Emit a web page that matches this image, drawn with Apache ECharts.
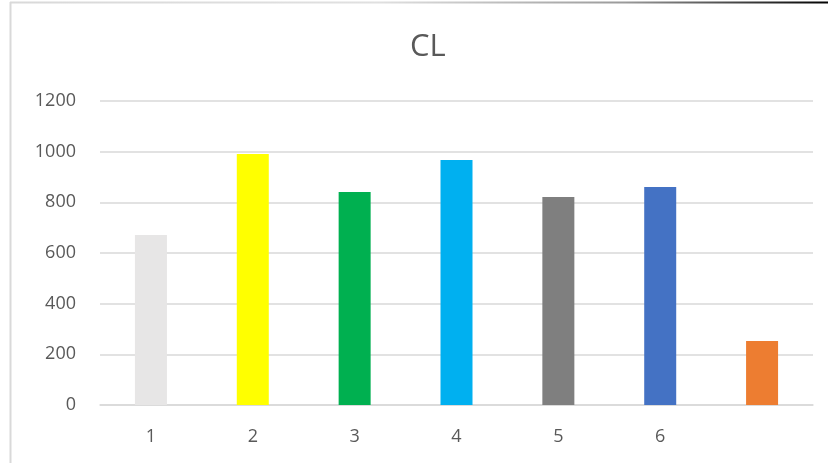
<!DOCTYPE html>
<html>
<head>
<meta charset="utf-8">
<script src="https://cdn.jsdelivr.net/npm/echarts@6/dist/echarts.min.js"></script>
<style>
  html, body { margin: 0; padding: 0; background: #ffffff; }
  #chart { width: 828px; height: 463px; }
</style>
</head>
<body>
<div id="chart"></div>
<script>
// Chart content
const chartTitle = 'CL';
const categories = ['1', '2', '3', '4', '5', '6', ''];
const values = [671, 991, 841, 967, 821, 861, 253];
const barColors = ['#E7E6E6', '#FFFF00', '#00B050', '#00B0F0', '#7F7F7F', '#4472C4', '#ED7D31'];
const yTicks = { min: 0, max: 1200, step: 200 };

const labelFont = '"Open Sans", "Liberation Sans", sans-serif';
const chart = echarts.init(document.getElementById('chart'), null, { renderer: 'canvas' });

chart.setOption({
  animation: false,
  backgroundColor: '#ffffff',
  title: {
    text: chartTitle,
    left: 405,
    top: 27,
    textStyle: { color: '#595959', fontSize: 31, fontWeight: 'normal', fontFamily: labelFont }
  },
  grid: { left: 100, right: 15, top: 101, bottom: 58, containLabel: false },
  xAxis: {
    type: 'category',
    data: categories,
    axisLine: { show: true, lineStyle: { color: '#D9D9D9', width: 1.5 } },
    axisTick: { show: false },
    axisLabel: { color: '#595959', fontSize: 18, fontFamily: labelFont, margin: 23 }
  },
  yAxis: {
    type: 'value',
    min: yTicks.min,
    max: yTicks.max,
    interval: yTicks.step,
    axisLine: { show: false },
    axisTick: { show: false },
    splitLine: { lineStyle: { color: '#D9D9D9', width: 1.5 } },
    axisLabel: {
      color: '#595959', fontSize: 18, fontFamily: labelFont, margin: 24,
      formatter: (v) => String(v)
    }
  },
  series: [{
    type: 'bar',
    barWidth: 32,
    data: values.map((v, i) => ({ value: v, itemStyle: { color: barColors[i] } }))
  }],
  graphic: [
    {
      type: 'line',
      shape: { x1: 10.5, y1: 2, x2: 10.5, y2: 463 },
      style: { stroke: '#D9D9D9', lineWidth: 2 },
      silent: true
    },
    {
      type: 'line',
      shape: { x1: 10, y1: 2.5, x2: 828, y2: 2.5 },
      style: {
        stroke: new echarts.graphic.LinearGradient(0, 0, 1, 0, [
          { offset: 0, color: '#D9D9D9' },
          { offset: 0.45, color: '#E0E0E0' },
          { offset: 0.75, color: '#9A9A9A' },
          { offset: 1, color: '#000000' }
        ]),
        lineWidth: 2
      },
      silent: true
    }
  ]
});
</script>
</body>
</html>
